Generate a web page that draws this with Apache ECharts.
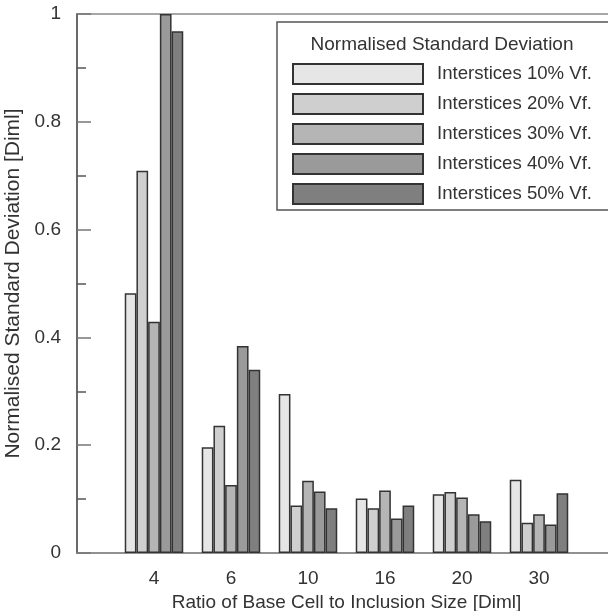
<!DOCTYPE html>
<html>
<head>
<meta charset="utf-8">
<script src="https://cdn.jsdelivr.net/npm/echarts@6/dist/echarts.min.js"></script>
<style>
  html, body { margin: 0; padding: 0; background: #fff; }
  #chart { width: 608px; height: 611px; }
</style>
</head>
<body>
<div id="chart"></div>
<script>
// ---- data ----
const categories = ['4', '6', '10', '16', '20', '30'];
const seriesNames = ['Interstices 10% Vf.', 'Interstices 20% Vf.', 'Interstices 30% Vf.', 'Interstices 40% Vf.', 'Interstices 50% Vf.'];
const vf10 = [0.482, 0.196, 0.295, 0.101, 0.109, 0.136];
const vf20 = [0.709, 0.236, 0.088, 0.083, 0.113, 0.056];
const vf30 = [0.429, 0.126, 0.134, 0.116, 0.103, 0.072];
const vf40 = [1.000, 0.384, 0.114, 0.064, 0.072, 0.053];
const vf50 = [0.968, 0.340, 0.083, 0.088, 0.059, 0.111];
const yTicks = [0, 0.2, 0.4, 0.6, 0.8, 1];
const legendTitle = 'Normalised Standard Deviation';
const xTitle = 'Ratio of Base Cell to Inclusion Size [Diml]';
const yTitle = 'Normalised Standard Deviation [Diml]';

const seriesValues = [vf10, vf20, vf30, vf40, vf50];
const colors = ['#e6e6e6', '#cfcfcf', '#b5b5b5', '#9a9a9a', '#7f7f7f'];
const FONT = "'Liberation Sans', Arial, Helvetica, sans-serif";

// padded category axis: empty slot at each end
const axisCats = [''].concat(categories, ['']);

const chart = echarts.init(document.getElementById('chart'), null, { renderer: 'canvas' });

const series = seriesValues.map((vals, i) => ({
  name: seriesNames[i],
  type: 'bar',
  data: ['-'].concat(vals, ['-']),
  barGap: '0%',
  barCategoryGap: '24%',
  itemStyle: { color: colors[i], borderColor: '#333', borderWidth: 1.5 },
  emphasis: { disabled: true },
  animation: false
}));

chart.setOption({
  animation: false,
  backgroundColor: '#fff',
  textStyle: { fontFamily: FONT },
  grid: {
    left: 77, width: 539, top: 14, height: 539,
    containLabel: false,
    outerBoundsMode: 'none',
    show: true, borderColor: '#8a8a8a', borderWidth: 1.5, backgroundColor: 'transparent'
  },
  xAxis: {
    type: 'category',
    data: axisCats,
    boundaryGap: false,
    axisLine: { lineStyle: { color: '#8a8a8a', width: 1.5 } },
    axisTick: { show: false },
    axisLabel: { fontSize: 19, color: '#333', margin: 16, fontFamily: FONT, interval: 0 },
    splitLine: { show: false },
    name: xTitle,
    nameLocation: 'middle',
    nameGap: 39,
    nameTextStyle: { fontSize: 19, color: '#333', fontFamily: FONT }
  },
  yAxis: {
    type: 'value',
    min: yTicks[0],
    max: yTicks[yTicks.length - 1],
    interval: yTicks[1] - yTicks[0],
    axisLine: { show: true, lineStyle: { color: '#555', width: 1.5 } },
    axisTick: { show: true, inside: true, length: 14, lineStyle: { color: '#777', width: 1.5 } },
    minorTick: { show: true, splitNumber: 2, length: 9, lineStyle: { color: '#555', width: 1.5 } },
    axisLabel: { fontSize: 19, color: '#333', margin: 16, fontFamily: FONT },
    splitLine: { show: false },
    name: yTitle,
    nameLocation: 'middle',
    nameGap: 52,
    nameTextStyle: { fontSize: 21, color: '#333', fontFamily: FONT }
  },
  legend: {
    orient: 'vertical',
    left: 292,
    top: 63,
    padding: 0,
    itemWidth: 130,
    itemHeight: 20,
    itemGap: 8,
    icon: 'rect',
    selectedMode: false,
    data: seriesNames,
    textStyle: { fontSize: 18.6, color: '#333', fontFamily: FONT, padding: [0, 0, 0, 9] }
  },
  graphic: [
    {
      type: 'rect',
      shape: { x: 277, y: 22, width: 340, height: 188 },
      style: { fill: 'none', stroke: '#555', lineWidth: 1.5 },
      z: 10
    },
    {
      type: 'text',
      x: 442, y: 45,
      style: { text: legendTitle, fontSize: 19, fill: '#333', fontFamily: FONT, textAlign: 'center', textVerticalAlign: 'middle' },
      z: 10
    }
  ],
  series: series
});
</script>
</body>
</html>
